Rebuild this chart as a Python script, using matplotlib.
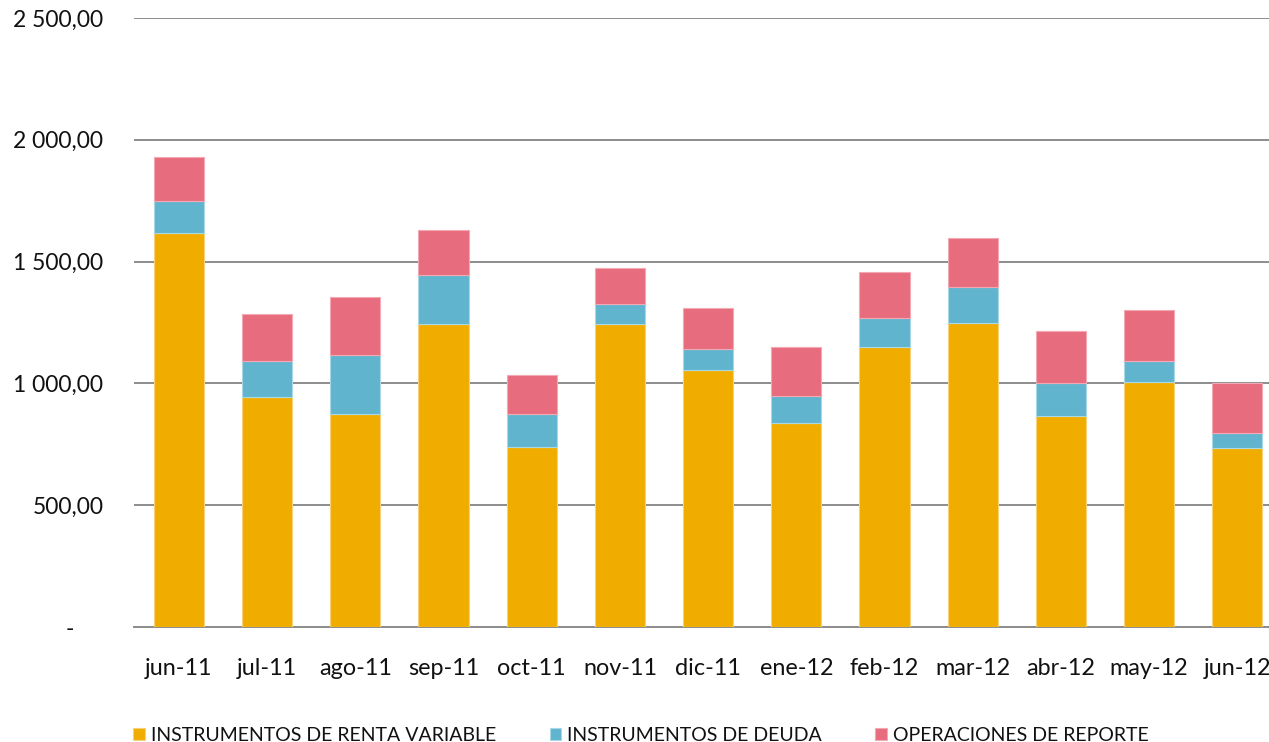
import matplotlib.pyplot as plt
from matplotlib.ticker import FuncFormatter

months = ["jun-11", "jul-11", "ago-11", "sep-11", "oct-11", "nov-11", "dic-11",
          "ene-12", "feb-12", "mar-12", "abr-12", "may-12", "jun-12"]
# stacked components (totals minus lower layers)
renta_variable = [1617, 944, 874, 1244, 739, 1244, 1055, 837, 1149, 1248, 866, 1006, 735]
deuda = [132, 148, 243, 201, 135, 82, 86, 111, 119, 148, 136, 86, 61]
reporte = [180, 193, 238, 185, 160, 148, 168, 201, 189, 201, 213, 209, 206]

series_names = ["INSTRUMENTOS DE RENTA VARIABLE", "INSTRUMENTOS DE DEUDA",
                "OPERACIONES DE REPORTE"]
colors = ["#F0AD00", "#61B4CD", "#E76C7E"]
edges = ["#F7D27A", "#A9D8E6", "#F2A9B4"]

plt.rcParams["font.family"] = ["Lato", "DejaVu Sans"]

fig = plt.figure(figsize=(12.69, 7.42), dpi=100)
ax = fig.add_axes([134 / 1269, 1 - 627 / 742, 1 - 134 / 1269, (627 - 18) / 742])

x = range(len(months))
bottom = [0] * len(months)
for vals, name, c, ec in zip([renta_variable, deuda, reporte], series_names, colors, edges):
    ax.bar(x, vals, width=0.57, bottom=bottom, color=c, edgecolor=ec,
           linewidth=0.8, label=name, zorder=3)
    bottom = [b + v for b, v in zip(bottom, vals)]

ax.set_ylim(0, 2500)
ax.set_xlim(-0.51, 12.36)
ax.set_yticks([0, 500, 1000, 1500, 2000, 2500])


def fmt(v, _):
    if v == 0:
        return "-     "
    return f"{v:,.2f}".replace(",", " ").replace(".", ",")


ax.yaxis.set_major_formatter(FuncFormatter(fmt))
ax.set_xticks(list(x))
ax.set_xticklabels(months)
ax.tick_params(axis="y", length=0, pad=22, labelsize=16.5, labelcolor="#111111")
ax.tick_params(axis="x", length=0, pad=22, labelsize=16.8, labelcolor="#111111")
ax.grid(axis="y", color="#8C8C8C", linewidth=1.4, zorder=0)
for side in ["top", "right", "left"]:
    ax.spines[side].set_visible(False)
ax.spines["bottom"].set_color("#8C8C8C")
ax.spines["bottom"].set_linewidth(1.4)

handles, labels = ax.get_legend_handles_labels()
fig.legend(handles, labels, loc="lower left", bbox_to_anchor=(116 / 1269, -0.026),
           ncol=3, frameon=False, fontsize=14, handlelength=0.6, handleheight=0.6,
           handletextpad=0.3, columnspacing=2.75, labelcolor="#111111")

fig.savefig("out.png", dpi=100)
